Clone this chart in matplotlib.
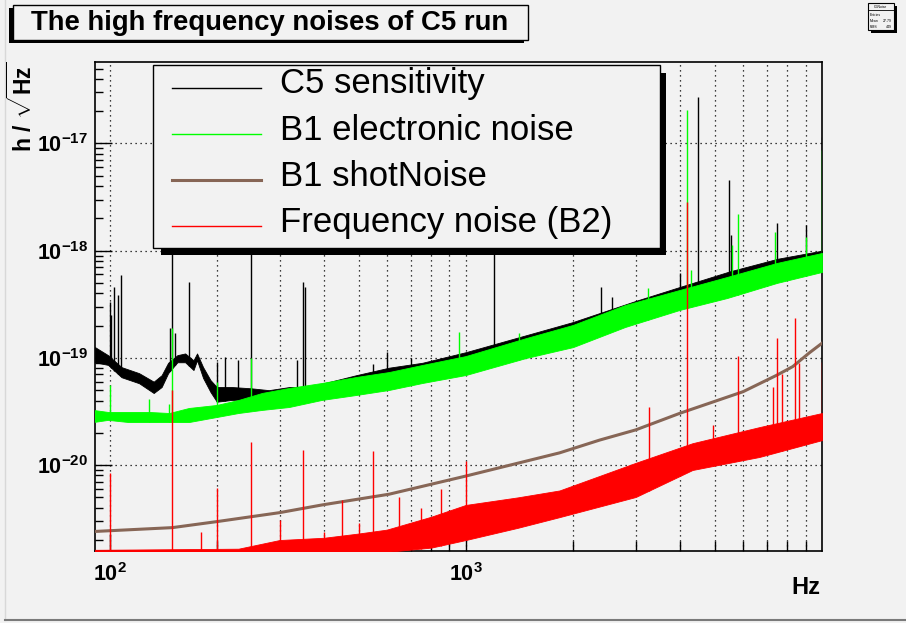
import numpy as np
import matplotlib
matplotlib.use("Agg")
import matplotlib.pyplot as plt
from matplotlib.patches import Rectangle
from matplotlib.ticker import LogLocator, NullFormatter

W, H = 906, 623
BG = '#f2f2f2'

plt.rcParams['font.family'] = ['Liberation Sans', 'DejaVu Sans']
plt.rcParams['mathtext.fontset'] = 'custom'
plt.rcParams['mathtext.rm'] = 'Liberation Sans:bold'
plt.rcParams['mathtext.it'] = 'Liberation Sans:bold'
plt.rcParams['mathtext.bf'] = 'Liberation Sans:bold'

# C5 sensitivity: envelope of the noisy spectrum (Hz, strain/sqrt(Hz))
c5_freq = [91, 99, 108, 121, 133, 140, 146, 155, 163, 172, 176, 183, 192, 200, 220,
           250, 280, 320, 360, 400, 493, 609, 755, 1000, 1500, 2000, 3000, 4000,
           5500, 7500, 10000]
c5_lo = [9.1e-20, 8.6e-20, 6.6e-20, 5.8e-20, 4.7e-20, 5.35e-20, 7.2e-20, 9.1e-20,
         9.1e-20, 7.7e-20, 9.5e-20, 6.5e-20, 4.8e-20, 3.9e-20, 4.05e-20, 4.1e-20,
         4.2e-20, 4.3e-20, 3.9e-20, 4.2e-20, 4.9e-20, 5.3e-20, 6.1e-20, 7.2e-20,
         1.05e-19, 1.35e-19, 2.2e-19, 2.95e-19, 3.9e-19, 5.3e-19, 6.6e-19]
c5_hi = [1.26e-19, 1.06e-19, 8.2e-20, 7.2e-20, 6.0e-20, 6.9e-20, 9.0e-20, 1.06e-19,
         1.1e-19, 9.5e-20, 1.1e-19, 8.2e-20, 6.2e-20, 5.35e-20, 5.35e-20, 5.2e-20,
         5.0e-20, 5.35e-20, 5.35e-20, 5.8e-20, 6.9e-20, 8.1e-20, 9.0e-20, 1.13e-19,
         1.65e-19, 2.16e-19, 3.4e-19, 4.6e-19, 6.4e-19, 8.4e-19, 1.0e-18]
c5_line_f = [100, 101, 103, 105.5, 107.4, 147.5, 150, 153, 167, 200, 210.6, 230, 250,
             336, 350, 354, 550, 600, 700, 1200, 2400, 2570, 3990, 4500, 5480, 5560,
             7470, 9000, 9980]
c5_line_top = [3.3e-19, 2.5e-19, 4.6e-19, 3.9e-19, 5.9e-19, 1.9e-19, 2e-17, 1.7e-19,
               5.1e-19, 9.1e-20, 1.02e-19, 9.5e-20, 2e-17, 9.5e-20, 5.1e-19, 4.6e-19,
               8.7e-20, 1.14e-19, 1.0e-19, 5e-18, 4.6e-19, 3.7e-19, 6.2e-19, 2.7e-17,
               4.6e-18, 1.4e-18, 1.8e-18, 1.74e-18, 1.16e-17]

# B1 electronic noise
b1_freq = [90, 99, 113, 129, 147, 167, 200, 230, 268, 319, 394, 493, 609, 755, 1000,
           1477, 2000, 2800, 3985, 5420, 7470, 10000]
b1_lo = [2.52e-20, 2.64e-20, 2.52e-20, 2.52e-20, 2.52e-20, 2.52e-20, 2.81e-20, 3.06e-20,
         3.27e-20, 3.48e-20, 4.05e-20, 4.51e-20, 5.02e-20, 5.83e-20, 6.92e-20, 9.98e-20,
         1.26e-19, 1.94e-19, 2.80e-19, 3.62e-19, 5.00e-19, 6.33e-19]
b1_hi = [3.27e-20, 3.13e-20, 3.13e-20, 3.13e-20, 3.06e-20, 3.41e-20, 3.64e-20, 4.05e-20,
         4.71e-20, 5.24e-20, 5.83e-20, 6.64e-20, 7.38e-20, 8.59e-20, 1.04e-19, 1.53e-19,
         2.03e-19, 3.11e-19, 4.30e-19, 5.69e-19, 7.68e-19, 9.52e-19]
b1_line_f = [100, 129, 147, 150, 200, 250, 960, 1410, 3250, 4190, 4300, 5600, 5800,
             7400, 9000, 9980]
b1_line_top = [5.6e-20, 4.1e-20, 3.7e-20, 1.9e-19, 6.0e-20, 1.0e-19, 1.76e-19, 1.7e-19,
               4.5e-19, 2.06e-17, 6.6e-19, 1.13e-18, 2.2e-18, 1.5e-18, 1.35e-18, 8.7e-18]

# B1 shot noise (smooth)
shot_freq = [90, 150, 200, 300, 395, 609, 1000, 1833, 2374, 3000, 3987, 6006, 7470,
             8280, 9200, 10000]
shot_val = [2.40e-21, 2.61e-21, 2.97e-21, 3.6e-21, 4.25e-21, 5.35e-21, 7.9e-21, 1.3e-20,
            1.71e-20, 2.13e-20, 3.04e-20, 4.84e-20, 6.9e-20, 8.3e-20, 1.11e-19, 1.37e-19]

# Frequency noise (B2)
fn_freq = [90, 230, 300, 400, 500, 600, 800, 1000, 1400, 1833, 3000, 4330, 6670, 10000]
fn_lo = [1.2e-21, 1.3e-21, 1.4e-21, 1.4e-21, 1.5e-21, 1.55e-21, 1.7e-21, 2.0e-21,
         2.6e-21, 3.27e-21, 5.04e-21, 9.0e-21, 1.19e-20, 1.71e-20]
fn_hi = [1.62e-21, 1.66e-21, 2.0e-21, 2.1e-21, 2.3e-21, 2.5e-21, 3.3e-21, 4.25e-21,
         5.0e-21, 5.8e-21, 1.05e-20, 1.6e-20, 2.26e-20, 3.06e-20]
fn_line_f = [100, 150, 180, 200, 250, 300, 350, 400, 450, 500, 550, 650, 750, 850, 1000,
             3260, 4190, 4940, 5820, 7300, 7470, 7700, 8420, 8600, 9980]
fn_line_top = [8.4e-21, 5.0e-20, 2.4e-21, 6.1e-21, 1.64e-20, 3.08e-21, 1.38e-20, 2.4e-21,
               4.7e-21, 2.9e-21, 1.36e-20, 5e-21, 4e-21, 6e-21, 1.1e-20, 3.5e-20, 2.86e-18,
               2.37e-20, 1.03e-19, 5.4e-20, 1.52e-19, 7e-20, 2.34e-19, 9e-20, 9.2e-20]

series = [
    ('C5 sensitivity', 'black', 1.0),
    ('B1 electronic noise', '#00ff00', 1.0),
    ('B1 shotNoise', '#876656', 2.2),
    ('Frequency noise (B2)', '#ff0000', 1.0),
]

fig = plt.figure(figsize=(W / 100, H / 100), dpi=100, facecolor=BG)
ax = fig.add_axes([95 / W, 1 - 551 / H, (822 - 95) / W, (551 - 62) / H])
ax.set_facecolor(BG)
ax.set_xscale('log')
ax.set_yscale('log')
ax.set_xlim(91, 10000)
ax.set_ylim(1.58e-21, 5.75e-17)


def band(f, lo, hi, lines_f, lines_top, color, z):
    ax.fill_between(f, lo, hi, color=color, lw=0.6, edgecolor=color, zorder=z)
    # spikes start inside the band
    base = 10 ** np.interp(np.log10(lines_f), np.log10(f), np.log10(lo))
    ax.vlines(lines_f, base, lines_top, color=color, lw=1.0, zorder=z)


band(c5_freq, c5_lo, c5_hi, c5_line_f, c5_line_top, series[0][1], 2)
band(b1_freq, b1_lo, b1_hi, b1_line_f, b1_line_top, series[1][1], 3)
ax.plot(shot_freq, shot_val, color=series[2][1], lw=series[2][2], zorder=4)
band(fn_freq, fn_lo, fn_hi, fn_line_f, fn_line_top, series[3][1], 5)

# axes, ticks, grid
ax.set_xticks([100, 1000], labels=[r'$10^{2}$', r'$10^{3}$'])
ax.xaxis.set_minor_locator(LogLocator(base=10, subs=np.arange(2, 10)))
ax.xaxis.set_minor_formatter(NullFormatter())
ax.set_yticks([1e-20, 1e-19, 1e-18, 1e-17],
              labels=[r'$10^{-20}$', r'$10^{-19}$', r'$10^{-18}$', r'$10^{-17}$'])
ax.yaxis.set_minor_locator(LogLocator(base=10, subs=np.arange(2, 10)))
ax.yaxis.set_minor_formatter(NullFormatter())
ax.tick_params(axis='both', which='both', direction='in', top=False, right=False,
               colors='black', labelsize=15.5)
ax.tick_params(axis='x', which='major', length=12, width=1, pad=9)
ax.tick_params(axis='x', which='minor', length=7, width=1)
ax.tick_params(axis='y', which='major', length=12, width=1, pad=5)
ax.tick_params(axis='y', which='minor', length=6, width=1)
ax.grid(True, axis='x', which='both', color='black', lw=0.9, linestyle=(0, (1, 3)))
ax.grid(True, axis='y', which='major', color='black', lw=0.9, linestyle=(0, (1, 3)))
ax.set_axisbelow(True)
for s in ax.spines.values():
    s.set_linewidth(1.2)

# overlay in pixel coordinates for the panes
ov = fig.add_axes([0, 0, 1, 1], zorder=10)
ov.set_xlim(0, W)
ov.set_ylim(H, 0)
ov.set_axis_off()

ov.plot([5, 5], [0, 620], color='#d8d8d8', lw=1)
ov.plot([5, W], [620, 620], color='#7a7a7a', lw=1.5)

# title pave
ov.add_patch(Rectangle((9, 8), 515, 35, facecolor='black', edgecolor='none'))
ov.add_patch(Rectangle((13, 5), 515, 35, facecolor=BG, edgecolor='black', lw=1))
ov.text(270, 23, 'The high frequency noises of C5 run', fontsize=19.8, fontweight='bold',
        ha='center', va='center')

# legend
ov.add_patch(Rectangle((161, 73), 505, 182, facecolor='black', edgecolor='none'))
ov.add_patch(Rectangle((153, 65), 507, 183, facecolor=BG, edgecolor='black', lw=1))
for i, (name, col, lw) in enumerate(series):
    yr = 87.7 + 46.2 * i
    ov.plot([172, 261], [yr, yr], color=col, lw=lw)
    ov.text(280, yr + 5.6, name, fontsize=25, ha='left', va='baseline')

# stats box
ov.add_patch(Rectangle((871, 6), 26, 27, facecolor='black', edgecolor='none'))
ov.add_patch(Rectangle((868, 3), 26, 27, facecolor=BG, edgecolor='black', lw=0.8))
ov.plot([868, 894], [10, 10], color='black', lw=0.6)
ov.text(881, 6.5, 'C5Noise', fontsize=2.5, ha='center', va='center')
ov.text(870, 15, 'Entries', fontsize=2.5, ha='left', va='center')
ov.text(870, 21, 'Mean', fontsize=2.5, ha='left', va='center')
ov.text(892, 21, '27.79', fontsize=2.5, ha='right', va='center')
ov.text(870, 27, 'RMS', fontsize=2.5, ha='left', va='center')
ov.text(892, 27, '449', fontsize=2.5, ha='right', va='center')

# axis titles
ov.text(806, 588, 'Hz', fontsize=17, fontweight='bold', ha='center', va='center')
ov.text(22, 62, r'$h\ /\ \sqrt{Hz}$', fontsize=16.5, rotation=90, ha='center', va='top')

fig.savefig('out.png', dpi=100, facecolor=BG)
